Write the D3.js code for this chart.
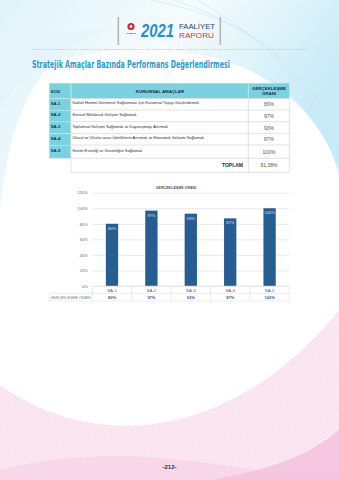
<!DOCTYPE html>
<html>
<head>
<meta charset="utf-8">
<script src="https://cdn.jsdelivr.net/npm/d3@7"></script>
<style>
  body { margin: 0; background: #fff; }
  svg { display: block; font-family: "Liberation Sans", Arial, sans-serif; }
</style>
</head>
<body>
<div id="page"></div>
<script>
// data
var codes = ["SA-1", "SA-2", "SA-3", "SA-4", "SA-5"];
var goals = [
  "Kaliteli Hizmet Üretiminin Sağlanması İçin Kurumsal Yapıyı Güçlendirmek",
  "Kentsel Mekânsal Gelişimi Sağlamak",
  "Toplumsal Gelişimi Sağlamak ve Dayanışmayı Artırmak",
  "Ulusal ve Uluslar arası İşbirliklerini Artırmak ve Ekonomik Gelişimi Sağlamak",
  "Kentin Esenliği ve Güvenliğini Sağlamak"
];
var rates = [80, 97, 93, 87, 100];
var totalLabel = "91,38%";
var yTicks = [0, 20, 40, 60, 80, 100, 120];

var W = 339, H = 480;
var cyan = "#7ad1df", barColor = "#275e92";

var svg = d3.select("#page").append("svg")
  .attr("width", W).attr("height", H);

var defs = svg.append("defs");
var pink = defs.append("pattern").attr("id", "pinkStripe")
  .attr("width", 3).attr("height", 3)
  .attr("patternUnits", "userSpaceOnUse")
  .attr("patternTransform", "rotate(-35)");
pink.append("rect").attr("width", 3).attr("height", 3).attr("fill", "#fcebf4");
pink.append("line").attr("x1", 0).attr("y1", 0).attr("x2", 3).attr("y2", 0)
  .attr("stroke", "#f5cde3").attr("stroke-width", 1.1);

var topGrad = defs.append("linearGradient").attr("id", "topGrad")
  .attr("x1", 0).attr("y1", 0).attr("x2", 1).attr("y2", 0.4);
topGrad.append("stop").attr("offset", 0).attr("stop-color", "#dcf1f8");
topGrad.append("stop").attr("offset", 0.5).attr("stop-color", "#f4fbfd");
topGrad.append("stop").attr("offset", 1).attr("stop-color", "#c3e9f6");

// background swooshes
svg.append("path")
  .attr("d", "M0,0 H339 V170 C300,60 180,30 60,60 C30,70 10,90 0,110 Z")
  .attr("fill", "url(#topGrad)").attr("opacity", 0.9);
svg.append("path")
  .attr("d", "M0,60 C20,40 60,30 110,28 C40,50 10,110 0,210 Z")
  .attr("fill", "#e3f4fa").attr("opacity", 0.8);
[0, 6, 12].forEach(function(o) {
  svg.append("path")
    .attr("d", "M" + (150 + o * 4) + ",0 C250," + (20 + o) + " 310," + (60 + o) + " 339," + (150 + o * 2))
    .attr("fill", "none").attr("stroke", "#bfe7f5").attr("stroke-width", 0.6);
});
svg.append("path")
  .attr("d", "M0,385 C90,450 230,445 339,310 V480 H0 Z")
  .attr("fill", "url(#pinkStripe)");
svg.append("path")
  .attr("d", "M0,470 C60,455 120,452 200,462 C260,470 300,478 339,470 V480 H0 Z")
  .attr("fill", "#f8d3e7").attr("opacity", 0.8);
svg.append("path")
  .attr("d", "M210,480 C270,470 310,455 339,430 V480 Z")
  .attr("fill", "#f5c3de").attr("opacity", 0.9);

// header logo
var logo = svg.append("g");
logo.append("rect").attr("x", 117.5).attr("y", 17).attr("width", 1.6).attr("height", 28).attr("fill", "#b5b5b5");
logo.append("rect").attr("x", 219.5).attr("y", 17).attr("width", 1.6).attr("height", 28).attr("fill", "#b5b5b5");
logo.append("circle").attr("cx", 131).attr("cy", 26.5).attr("r", 3.6).attr("fill", "#d8232f");
logo.append("circle").attr("cx", 131).attr("cy", 26.5).attr("r", 1.4).attr("fill", "#fff");
logo.append("text").attr("x", 131).attr("y", 33.5).attr("text-anchor", "middle")
  .attr("font-size", 2.2).attr("font-weight", "bold").attr("fill", "#2a4b8d").text("SAMSUN");
logo.append("text").attr("x", 141).attr("y", 37)
  .attr("font-size", 18).attr("font-weight", "bold").attr("font-style", "italic")
  .attr("fill", "#1f8fd6").attr("textLength", 33).attr("lengthAdjust", "spacingAndGlyphs")
  .text("2021");
logo.append("text").attr("x", 179).attr("y", 28.6)
  .attr("font-family", "Liberation Sans Narrow, Arial Narrow, sans-serif")
  .attr("font-size", 7.5).attr("fill", "#24457f")
  .attr("textLength", 36).attr("lengthAdjust", "spacingAndGlyphs").text("FAALİYET");
logo.append("text").attr("x", 179).attr("y", 37.5)
  .attr("font-family", "Liberation Sans Narrow, Arial Narrow, sans-serif")
  .attr("font-size", 7.5).attr("fill", "#e2343f")
  .attr("textLength", 35).attr("lengthAdjust", "spacingAndGlyphs").text("RAPORU");

svg.append("line").attr("x1", 32).attr("x2", 307).attr("y1", 49.5).attr("y2", 49.5)
  .attr("stroke", "#6cc6e0").attr("stroke-width", 0.6).attr("stroke-dasharray", "1.5,1.5");

svg.append("text").attr("x", 32).attr("y", 67.5)
  .attr("font-family", "Liberation Sans Narrow, DejaVu Sans Condensed, sans-serif")
  .attr("font-size", 10).attr("font-weight", "bold").attr("fill", "#2c9bd0")
  .attr("textLength", 198).attr("lengthAdjust", "spacingAndGlyphs")
  .text("Stratejik Amaçlar Bazında Performans Değerlendirmesi");

// table
var tx = [49.3, 71, 248.3, 289.3];
var rowY = [83.3, 98.3, 110, 121.7, 133.3, 145, 158.3, 172.3];
var table = svg.append("g");

table.append("rect").attr("x", tx[0]).attr("y", rowY[0])
  .attr("width", tx[3] - tx[0]).attr("height", rowY[1] - rowY[0]).attr("fill", cyan);
table.selectAll(".kod").data(codes).join("rect")
  .attr("x", tx[0]).attr("y", function(d, i) { return rowY[i + 1] + 0.4; })
  .attr("width", tx[1] - tx[0] - 0.4)
  .attr("height", function(d, i) { return rowY[i + 2] - rowY[i + 1] - 0.4; })
  .attr("fill", cyan);
// row borders
for (var r = 1; r < rowY.length; r++) {
  table.append("line").attr("x1", tx[1]).attr("x2", tx[3])
    .attr("y1", rowY[r]).attr("y2", rowY[r])
    .attr("stroke", "#c4c4c4").attr("stroke-width", 0.5);
}
[1, 2, 3].forEach(function(c) {
  table.append("line").attr("x1", tx[c]).attr("x2", tx[c])
    .attr("y1", rowY[1]).attr("y2", rowY[7])
    .attr("stroke", "#c4c4c4").attr("stroke-width", 0.5);
});
table.append("line").attr("x1", tx[2]).attr("x2", tx[2])
  .attr("y1", rowY[0]).attr("y2", rowY[1]).attr("stroke", "#fff").attr("stroke-width", 0.5);
table.append("line").attr("x1", tx[1]).attr("x2", tx[1])
  .attr("y1", rowY[0]).attr("y2", rowY[1]).attr("stroke", "#fff").attr("stroke-width", 0.5);

table.append("text").attr("x", 51).attr("y", 92.5).attr("font-size", 4.2)
  .attr("font-weight", "bold").attr("fill", "#1d2f45").text("KOD");
table.append("text").attr("x", 160).attr("y", 92.5).attr("text-anchor", "middle")
  .attr("font-size", 4.4).attr("font-weight", "bold").attr("fill", "#1d2f45").text("KURUMSAL AMAÇLAR");
table.append("text").attr("x", 269).attr("y", 89.5).attr("text-anchor", "middle")
  .attr("font-size", 4.4).attr("font-weight", "bold").attr("fill", "#1d2f45").text("GERÇEKLEŞME");
table.append("text").attr("x", 269).attr("y", 95.3).attr("text-anchor", "middle")
  .attr("font-size", 4.4).attr("font-weight", "bold").attr("fill", "#1d2f45").text("ORANI");

table.selectAll(".code").data(codes).join("text")
  .attr("x", 50.7).attr("y", function(d, i) { return (rowY[i + 1] + rowY[i + 2]) / 2 + 0.5; })
  .attr("font-size", 4.3).attr("font-weight", "bold").attr("fill", "#1d2f45").text(function(d) { return d; });
table.selectAll(".goal").data(goals).join("text")
  .attr("x", 72.5).attr("y", function(d, i) { return (rowY[i + 1] + rowY[i + 2]) / 2 + 0.2; })
  .attr("font-size", 3.9).attr("fill", "#2a2a2a").text(function(d) { return d; });
table.selectAll(".rate").data(rates).join("text")
  .attr("x", 269).attr("text-anchor", "middle")
  .attr("y", function(d, i) { return (rowY[i + 1] + rowY[i + 2]) / 2 + 2; })
  .attr("font-size", 5).attr("fill", "#555").text(function(d) { return d + "%"; });
table.append("text").attr("x", 243).attr("y", 167).attr("text-anchor", "end")
  .attr("font-size", 5).attr("font-weight", "bold").attr("fill", "#1d2f45").text("TOPLAM");
table.append("text").attr("x", 269).attr("y", 167).attr("text-anchor", "middle")
  .attr("font-size", 5).attr("fill", "#555").text(totalLabel);

// chart
var cx0 = 92.3, cx1 = 289.3, cy0 = 192.7, cy1 = 286;
var x = d3.scaleBand().domain(codes).range([cx0, cx1]).paddingInner(0).paddingOuter(0);
var y = d3.scaleLinear().domain([0, 120]).range([cy1, cy0]);

svg.append("text").attr("x", 176).attr("y", 188.5).attr("text-anchor", "middle")
  .attr("font-size", 3.6).attr("font-weight", "bold").attr("fill", "#555").text("GERÇEKLEŞME ORANI");

var yAxis = svg.append("g").attr("transform", "translate(" + cx0 + ",0)")
  .call(d3.axisLeft(y).tickValues(yTicks).tickSize(-(cx1 - cx0)).tickPadding(4.5)
    .tickFormat(function(d) { return d + "%"; }));
yAxis.select(".domain").remove();
yAxis.selectAll(".tick line").attr("stroke", "#e3e3e3").attr("stroke-width", 0.8);
yAxis.selectAll(".tick text").attr("font-size", 4).attr("fill", "#666")
  .attr("font-family", "Liberation Sans, Arial, sans-serif");

var bw = 12.3;
svg.selectAll(".bar").data(rates).join("rect")
  .attr("x", function(d, i) { return x(codes[i]) + x.bandwidth() / 2 - bw / 2; })
  .attr("y", function(d) { return y(d); })
  .attr("width", bw)
  .attr("height", function(d) { return y(0) - y(d); })
  .attr("fill", barColor);
svg.selectAll(".barlab").data(rates).join("text")
  .attr("x", function(d, i) { return x(codes[i]) + x.bandwidth() / 2; })
  .attr("y", function(d) { return y(d) + 6; })
  .attr("text-anchor", "middle").attr("font-size", 4).attr("fill", "#d6e4f2")
  .text(function(d) { return d + "%"; });

// data table under chart
var dt0 = 286, dt1 = 293.3, dt2 = 301;
var dtab = svg.append("g");
[dt0, dt1, dt2].forEach(function(yy, k) {
  dtab.append("line").attr("x1", k === 0 ? cx0 : 49.3).attr("x2", cx1)
    .attr("y1", yy).attr("y2", yy).attr("stroke", "#d8d8d8").attr("stroke-width", 0.5);
});
dtab.append("line").attr("x1", 49.3).attr("x2", 49.3).attr("y1", dt1).attr("y2", dt2)
  .attr("stroke", "#d8d8d8").attr("stroke-width", 0.5);
x.domain().concat([null]).forEach(function(c) {
  var xx = c === null ? cx1 : x(c);
  dtab.append("line").attr("x1", xx).attr("x2", xx).attr("y1", dt0).attr("y2", dt2)
    .attr("stroke", "#d8d8d8").attr("stroke-width", 0.5);
});
dtab.selectAll(".cat").data(codes).join("text")
  .attr("x", function(d) { return x(d) + x.bandwidth() / 2; }).attr("y", 291.6)
  .attr("text-anchor", "middle").attr("font-size", 4.3).attr("fill", "#555").text(function(d) { return d; });
dtab.selectAll(".val").data(rates).join("text")
  .attr("x", function(d, i) { return x(codes[i]) + x.bandwidth() / 2; }).attr("y", 298.6)
  .attr("text-anchor", "middle").attr("font-size", 4).attr("font-weight", "bold")
  .attr("fill", "#3455a4").text(function(d) { return d + "%"; });
dtab.append("text").attr("x", 50.5).attr("y", 298.6).attr("font-size", 3.7).attr("fill", "#777")
  .attr("textLength", 40).attr("lengthAdjust", "spacingAndGlyphs").text("GERÇEKLEŞME ORANI");

// page number
svg.append("text").attr("x", 169.5).attr("y", 469).attr("text-anchor", "middle")
  .attr("font-size", 6).attr("font-weight", "bold").attr("fill", "#333").text("-212-");
</script>
</body>
</html>
